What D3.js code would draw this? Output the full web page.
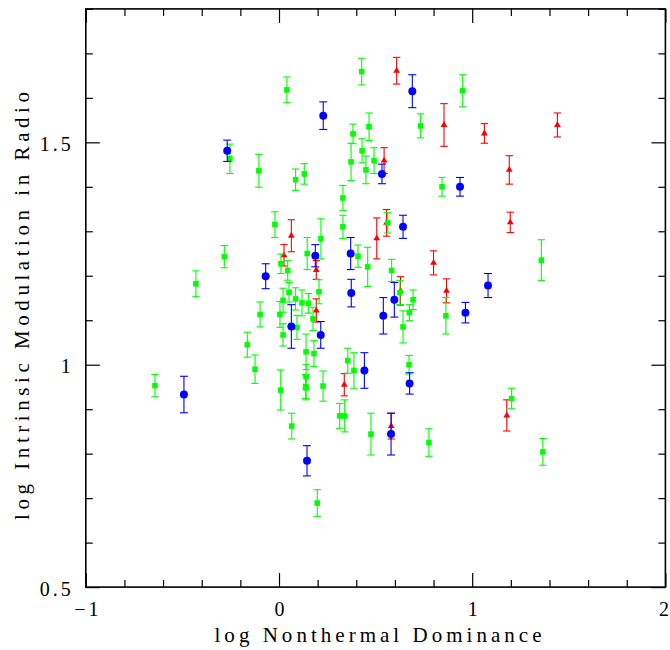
<!DOCTYPE html>
<html>
<head>
<meta charset="utf-8">
<script src="https://cdn.jsdelivr.net/npm/d3@7"></script>
<style>
  html, body { margin: 0; padding: 0; background: #fff; }
  svg { display: block; }
  text { font-family: "Liberation Serif", "DejaVu Serif", serif; fill: #000; }
</style>
</head>
<body>
<svg id="chart" width="670" height="650"></svg>
<script>
// ---- data ----
const greenX = [-0.254,-0.104,0.086,0.131,-0.021,-0.283,0.010,0.045,0.146,-0.430,0.052,0.021,0.086,0.119,0.152,-0.098,0.005,0.093,0.021,-0.164,-0.642,-0.124,0.140,0.009,0.140,0.138,0.140,0.066,0.041,0.428,0.951,0.383,0.466,0.733,0.373,0.430,0.450,0.492,0.844,0.331,0.217,0.331,0.563,1.358,1.204,1.366,0.409,0.459,0.583,0.626,0.207,0.694,0.675,0.864,0.176,0.642,0.181,0.356,0.388,0.673,0.228,0.314,0.340,0.476,0.776,0.198];
const greenY = [1.463,1.436,1.416,1.429,1.315,1.243,1.227,1.212,1.250,1.182,1.163,1.145,1.148,1.139,1.138,1.113,1.113,1.084,1.067,1.045,0.953,0.990,1.029,0.943,0.973,0.951,0.948,0.862,1.618,1.659,1.616,1.519,1.535,1.537,1.456,1.481,1.438,1.459,1.400,1.375,1.283,1.310,1.319,1.235,0.924,0.804,1.244,1.220,1.212,1.162,1.164,1.146,1.117,1.110,1.103,1.085,1.025,1.009,0.987,1.000,0.952,0.885,0.885,0.844,0.825,0.689];
const greenErr = [0.033,0.037,0.024,0.023,0.029,0.025,0.022,0.022,0.036,0.029,0.022,0.027,0.025,0.029,0.022,0.028,0.029,0.027,0.025,0.028,0.025,0.032,0.040,0.045,0.027,0.027,0.027,0.029,0.029,0.030,0.036,0.022,0.031,0.027,0.042,0.027,0.031,0.029,0.021,0.028,0.045,0.026,0.023,0.046,0.023,0.030,0.025,0.044,0.025,0.027,0.027,0.022,0.018,0.041,0.026,0.036,0.029,0.028,0.040,0.021,0.034,0.028,0.036,0.047,0.031,0.030];

const blueX = [-0.268,-0.069,0.064,-0.492,0.145,0.690,0.229,0.533,0.937,0.642,1.082,0.965,0.188,0.371,0.374,0.597,0.216,0.540,0.442,0.676,0.580];
const blueY = [1.481,1.199,1.086,0.933,0.784,1.615,1.560,1.429,1.400,1.310,1.178,1.117,1.245,1.250,1.161,1.146,1.067,1.110,0.987,0.958,0.844];
const blueErr = [0.024,0.028,0.049,0.041,0.034,0.037,0.031,0.022,0.021,0.026,0.027,0.023,0.025,0.036,0.031,0.039,0.030,0.041,0.040,0.024,0.047];

const redX = [0.064,0.026,0.609,0.854,1.063,0.544,0.506,0.557,1.441,1.192,1.197,1.179,0.193,0.800,0.629,0.867,0.193,0.338,0.581];
const redY = [1.290,1.246,1.661,1.539,1.520,1.459,1.284,1.319,1.539,1.438,1.320,0.886,1.213,1.229,1.166,1.166,1.122,0.955,0.862];
const redErr = [0.036,0.024,0.030,0.048,0.022,0.029,0.046,0.030,0.027,0.032,0.023,0.035,0.021,0.027,0.032,0.027,0.026,0.025,0.029];

const xMajor = [-1, 0, 1, 2];
const xMajorLabels = ["\u22121", "0", "1", "2"];
const yMajor = [0.5, 1, 1.5];
const yMajorLabels = ["0.5", "1", "1.5"];
const xTitle = "log Nonthermal Dominance";
const yTitle = "log Intrinsic Modulation in Radio";

// ---- chart ----
const svg = d3.select("#chart");
const x = d3.scaleLinear().domain([-1, 2]).range([85.8, 665.4]);
const y = d3.scaleLinear().domain([0.5, 1.8]).range([587.1, 8.9]);

const xMinor = d3.range(-1, 2.0001, 0.2).filter(v => Math.abs(v - Math.round(v)) > 1e-6);
const yMinor = d3.range(0.5, 1.8001, 0.1).filter(v => !yMajor.some(m => Math.abs(m - v) < 1e-6));

const L = x.range()[0], R = x.range()[1], B = y.range()[0], T = y.range()[1];

function styleAxis(g) {
  g.select(".domain").remove();
  g.attr("font-family", null).attr("font-size", null);
  g.selectAll(".tick line").attr("stroke", "#000").attr("stroke-width", 1.2);
}

// bottom
svg.append("g").attr("transform", `translate(0,${B})`)
  .call(d3.axisBottom(x).tickValues(xMinor).tickSize(-7).tickFormat("")).call(styleAxis);
svg.append("g").attr("transform", `translate(0,${B})`)
  .call(d3.axisBottom(x).tickValues(xMajor).tickSize(-14)
    .tickFormat((d, i) => xMajorLabels[i]))
  .call(styleAxis)
  .call(g => g.selectAll(".tick text").attr("font-size", 20).attr("dy", null).attr("y", 29)
     .attr("dx", (d, i) => xMajorLabels[i].length > 1 ? 1.5 : (i === xMajor.length - 1 ? -2 : 0))
     .style("letter-spacing", (d, i) => xMajorLabels[i].length > 1 ? "3px" : null)
     .attr("fill", "#000"));
// top
svg.append("g").attr("transform", `translate(0,${T})`)
  .call(d3.axisTop(x).tickValues(xMinor).tickSize(-7).tickFormat("")).call(styleAxis);
svg.append("g").attr("transform", `translate(0,${T})`)
  .call(d3.axisTop(x).tickValues(xMajor).tickSize(-14).tickFormat("")).call(styleAxis);
// left
svg.append("g").attr("transform", `translate(${L},0)`)
  .call(d3.axisLeft(y).tickValues(yMinor).tickSize(-7).tickFormat("")).call(styleAxis);
svg.append("g").attr("transform", `translate(${L},0)`)
  .call(d3.axisLeft(y).tickValues(yMajor).tickSize(-14)
    .tickFormat((d, i) => yMajorLabels[i]))
  .call(styleAxis)
  .call(g => g.selectAll(".tick text").attr("font-size", 20).attr("x", -12).attr("dy", "0.4em")
     .style("letter-spacing", "3px").attr("fill", "#000"));
// right
svg.append("g").attr("transform", `translate(${R},0)`)
  .call(d3.axisRight(y).tickValues(yMinor).tickSize(-7).tickFormat("")).call(styleAxis);
svg.append("g").attr("transform", `translate(${R},0)`)
  .call(d3.axisRight(y).tickValues(yMajor).tickSize(-14).tickFormat("")).call(styleAxis);

// frame
svg.append("rect").attr("x", L).attr("y", T).attr("width", R - L).attr("height", B - T)
  .attr("fill", "none").attr("stroke", "#000").attr("stroke-width", 1.6);

// series
function drawSeries(xs, ys, es, color, symType, size, capW) {
  const data = xs.map((v, i) => ({ x: v, y: ys[i], e: es[i] }));
  const g = svg.append("g");
  const eb = g.selectAll("g.eb").data(data).join("g").attr("stroke", color).attr("stroke-width", 1.1);
  eb.append("line").attr("x1", d => x(d.x)).attr("x2", d => x(d.x))
    .attr("y1", d => y(d.y - d.e)).attr("y2", d => y(d.y + d.e));
  eb.append("line").attr("x1", d => x(d.x) - capW).attr("x2", d => x(d.x) + capW)
    .attr("y1", d => y(d.y + d.e)).attr("y2", d => y(d.y + d.e));
  eb.append("line").attr("x1", d => x(d.x) - capW).attr("x2", d => x(d.x) + capW)
    .attr("y1", d => y(d.y - d.e)).attr("y2", d => y(d.y - d.e));
  g.selectAll("path.m").data(data).join("path")
    .attr("d", d3.symbol().type(symType).size(size))
    .attr("transform", d => `translate(${x(d.x)},${y(d.y)})`)
    .attr("fill", color);
}
drawSeries(redX, redY, redErr, "#ff0000", d3.symbolTriangle, 20, 3.7);
drawSeries(greenX, greenY, greenErr, "#00ff00", d3.symbolSquare, 31, 3.7);
drawSeries(blueX, blueY, blueErr, "#0000ff", d3.symbolCircle, 50, 4);

// axis titles
svg.append("text").attr("x", 378).attr("y", 642)
  .attr("text-anchor", "middle").attr("font-size", 21)
  .attr("textLength", 327).attr("lengthAdjust", "spacing").text(xTitle);
svg.append("text").attr("transform", `translate(29,${306}) rotate(-90)`)
  .attr("text-anchor", "middle").attr("font-size", 21)
  .attr("textLength", 428).attr("lengthAdjust", "spacing").text(yTitle);
</script>
</body>
</html>
